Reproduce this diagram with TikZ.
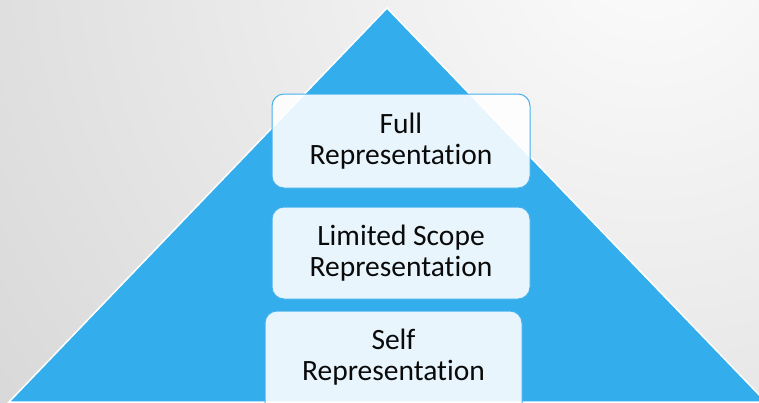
\documentclass[tikz,border=0pt]{standalone}
\usepackage{fontspec}
\setmainfont[Ligatures=NoCommon]{Carlito}
\definecolor{pyrblue}{RGB}{51,173,236}
\definecolor{boxline}{RGB}{70,178,236}
\definecolor{bgin}{RGB}{252,252,252}
\definecolor{bgout}{RGB}{212,212,212}
\definecolor{txt}{RGB}{10,10,10}
\begin{document}
\begin{tikzpicture}[x=1pt,y=-1pt,
  level/.style={draw=boxline, line width=1pt, fill=white, fill opacity=0.89,
    draw opacity=1, text opacity=1, rounded corners=12pt, align=center,
    text=txt, font=\fontsize{29.5}{31}\selectfont, inner sep=0pt}]
\useasboundingbox (0,0) rectangle (759,402);
\begin{scope}
\clip (0,0) rectangle (759,402);
\shade[inner color=bgin, outer color=bgout] (650,-60) circle (900);
\fill[pyrblue, draw=white, line width=1.5pt] (387,8) -- (766,402) -- (9,402) -- cycle;
\node[level, minimum width=258pt, minimum height=94pt] (full) at (401,141) {Full\\Representation};
\node[level, minimum width=258pt, minimum height=92pt] (limited) at (401,253) {Limited Scope\\Representation};
\node[level, minimum width=257pt, minimum height=104pt] (self) at (393.5,363) {Self\\Representation\rule[-16pt]{0pt}{0pt}};
\end{scope}
\end{tikzpicture}
\end{document}
